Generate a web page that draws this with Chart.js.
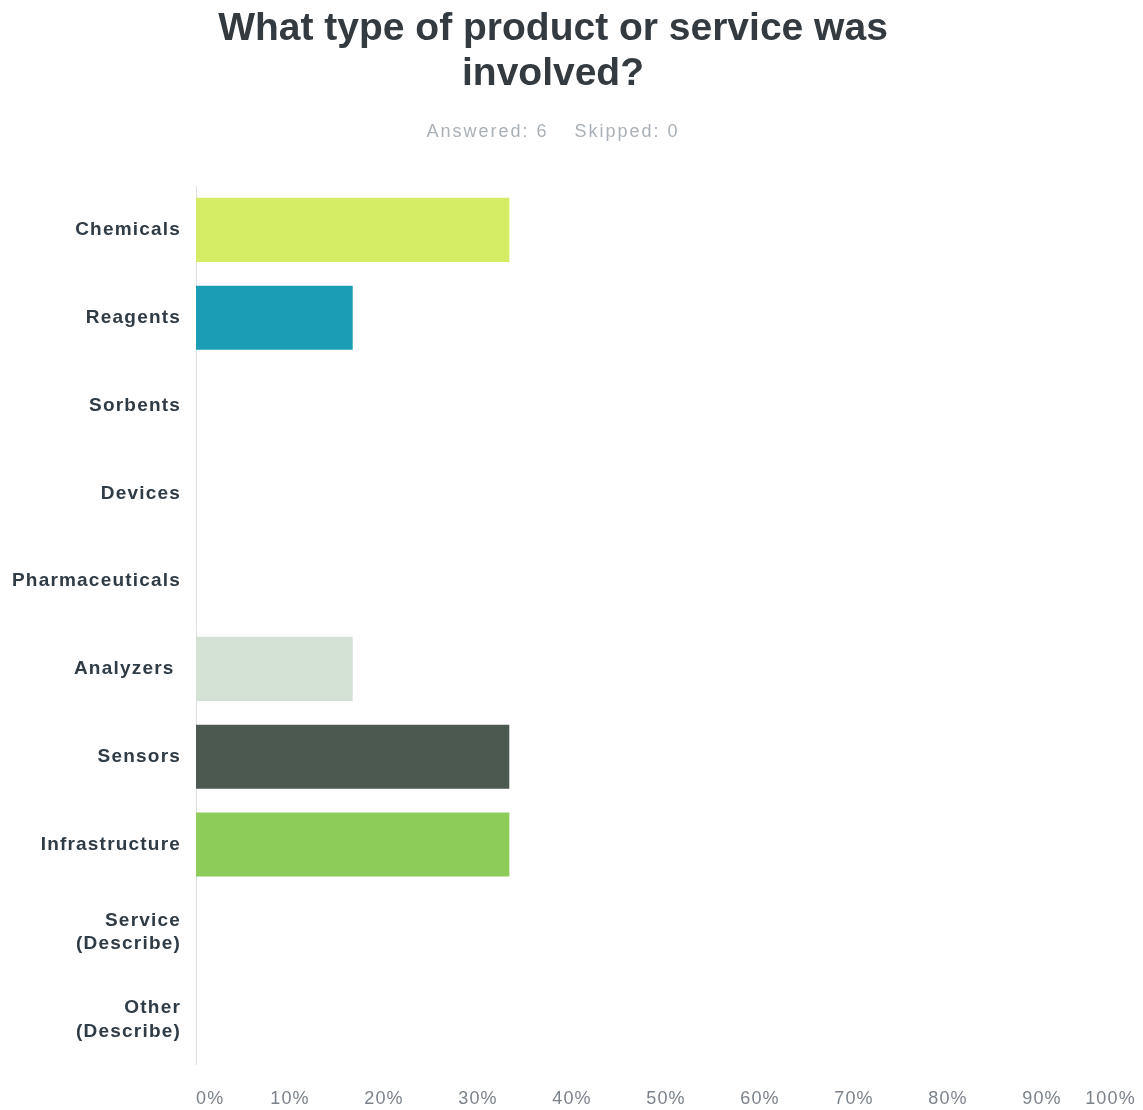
<!DOCTYPE html>
<html>
<head>
<meta charset="utf-8">
<script src="https://cdn.jsdelivr.net/npm/chart.js@4.4.1/dist/chart.umd.min.js"></script>
<style>
  html, body { margin: 0; padding: 0; background: #fff; }
  #wrap { position: relative; width: 1143px; height: 1110px; }
  #title {
    position: absolute; left: 0; top: 4px; width: 1106px;
    text-align: center; font: bold 39px "Liberation Sans", Arial, sans-serif;
    color: #333b41; line-height: 45px;
  }
  #sub {
    position: absolute; left: 0; top: 121px; width: 1106px;
    text-align: center; font: 18px "Liberation Sans", Arial, sans-serif;
    color: #a9b0b7; letter-spacing: 2px;
  }
  #sub span + span { margin-left: 26px; }
  canvas { position: absolute; left: 0; top: 0; }
</style>
</head>
<body>
<div id="wrap">
  <canvas id="productChart" width="1143" height="1110"></canvas>
  <div id="title">What type of product or service was<br>involved?</div>
  <div id="sub"><span>Answered: 6</span><span>Skipped: 0</span></div>
</div>
<script>
// answer options
const categories = [
    'Chemicals', 'Reagents', 'Sorbents', 'Devices', 'Pharmaceuticals',
    'Analyzers ', 'Sensors', 'Infrastructure',
    ['Service', '(Describe)'], ['Other', '(Describe)']
];
// percent of respondents
const percents = [33.33, 16.67, 0, 0, 0, 16.67, 33.33, 33.33, 0, 0];
const barColors = [
    '#d4ec63', '#1c9db6', '#f7b84b', '#e4766a', '#7d6fb0',
    '#d4e2d5', '#4b5950', '#8ecc5a', '#6bb3d6', '#c7c7c7'
];
const xTicks = [0, 10, 20, 30, 40, 50, 60, 70, 80, 90, 100];

// the labels in the original are a little spaced out
const letterSpacing = {
    id: 'letterSpacing',
    beforeUpdate(chart) { chart.ctx.letterSpacing = '1.2px'; },
    beforeDraw(chart) { chart.ctx.letterSpacing = '1.2px'; }
};

const ctx = document.getElementById('productChart');

new Chart(ctx, {
    type: 'bar',
    data: {
        labels: categories,
        datasets: [{
            data: percents,
            backgroundColor: barColors,
            borderWidth: 0,
            barPercentage: 0.73,
            categoryPercentage: 1
        }]
    },
    options: {
        indexAxis: 'y',
        responsive: false,
        animation: false,
        layout: {
            padding: { top: 186, right: 7, left: 0, bottom: 0 }
        },
        scales: {
            x: {
                min: 0,
                max: 100,
                afterBuildTicks: (scale) => {
                    scale.ticks = xTicks.map(v => ({ value: v }));
                },
                afterFit: (scale) => {
                    scale.height = 46;
                    scale.paddingLeft = 0;
                    scale.paddingRight = 0;
                },
                grid: { display: false, drawTicks: false },
                border: { display: false },
                ticks: {
                    padding: 24,
                    align: 'inner',
                    maxRotation: 0,
                    autoSkip: false,
                    color: '#7b828a',
                    font: { family: '"Liberation Sans", Arial, sans-serif', size: 18 },
                    callback: (v) => v + '%'
                }
            },
            y: {
                afterFit: (scale) => { scale.width = 196; },
                grid: { display: false, drawTicks: false },
                border: { display: true, color: '#dcdfe2', width: 1 },
                ticks: {
                    padding: 15,
                    color: '#2f3b45',
                    font: { family: '"Liberation Sans", Arial, sans-serif', size: 19, weight: 'bold', lineHeight: 1.25 }
                }
            }
        },
        plugins: {
            legend: { display: false },
            tooltip: { enabled: false }
        }
    },
    plugins: [letterSpacing]
});
</script>
</body>
</html>
